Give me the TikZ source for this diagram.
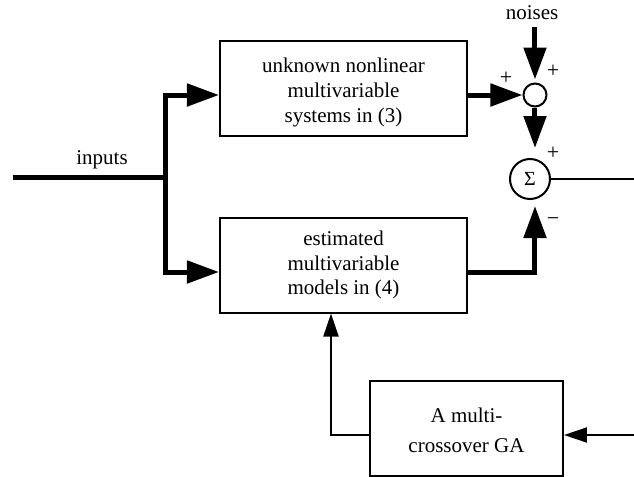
\documentclass[tikz,border=0pt]{standalone}
\usepackage{fontspec}
\setmainfont{Liberation Serif}
\usetikzlibrary{arrows.meta}
\begin{document}
\begin{tikzpicture}[x=0.5pt,y=-0.5pt,
 box/.style={draw, line width=1pt, minimum width=123.5pt, minimum height=47.5pt, align=center, font=\fontsize{10.5}{12.4}\selectfont, inner sep=0pt},
 thickln/.style={line width=2.5pt},
 thinln/.style={line width=1pt},
 bigtip/.tip={Triangle[length=16pt,width=11pt]},
 smalltip/.tip={Triangle[length=11.5pt,width=7.5pt]},
 sign/.style={font=\fontsize{11}{11}\selectfont, inner sep=0pt},
 lbl/.style={font=\fontsize{10.5}{12.5}\selectfont, inner sep=0pt}
]
\useasboundingbox (0,0) rectangle (634,477);
% blocks
\node[box] (top) at (343.5,88.5) {\rule{0pt}{11.5pt}unknown nonlinear\\multivariable\\systems in (3)};
\node[box] (bot) at (343.5,265) {estimated\\multivariable\\models in (4)};
\node[box, minimum width=96.5pt, font=\fontsize{10.5}{15.3}\selectfont] (ga) at (466.5,428.5) {\rule{0pt}{9.2pt}A multi-\\crossover GA};
\node[draw, circle, line width=1pt, minimum size=11.5pt, inner sep=0pt] (c) at (535,95) {};
\node[draw, circle, line width=1pt, minimum size=20pt, inner sep=0pt, font=\fontsize{10}{10}\selectfont] (sig) at (530,179) {Σ};
% free ends
\coordinate (in) at (13,177);
\coordinate (j) at (166,177);
\coordinate (nz) at (535,27);
\coordinate (out) at (634,179);
\coordinate (gain) at (634,435);
\coordinate (cv) at (535,179);
% labels
\node[lbl] (inlbl) at (102,160) {inputs};
\node[lbl] (nzlbl) at (532,13) {noises};
\node[sign] (p1) at (506,78) {+};
\node[sign] (p2) at (553,71) {+};
\node[sign] (p3) at (553,153) {+};
\node[sign] (m1) at (553,222) {−};
% thick connectors
\draw[thickln] (in) -- (j);
\draw[thickln, bigtip-bigtip] ([yshift=-3.25pt]top.west) -| (j) |- ([yshift=-3.5pt]bot.west);
\draw[thickln, -bigtip] ([yshift=-3.25pt]top.east) -- (c.west);
\draw[thickln, -bigtip, shorten >=1.5pt] (nz) -- (c.north);
\draw[thickln, -bigtip, shorten >=5pt] (c.south) -- (c.south |- sig.north);
\draw[thickln, -bigtip, shorten >=3pt] ([yshift=-3.5pt]bot.east) -| (cv |- sig.south);
% thin connectors
\draw[thinln] (sig.east) -- (out);
\draw[thinln, -smalltip] (gain) -- (ga.east |- gain);
\draw[thinln, -smalltip] (ga.west |- gain) -| ([xshift=-6.25pt]bot.south);
\end{tikzpicture}
\end{document}
